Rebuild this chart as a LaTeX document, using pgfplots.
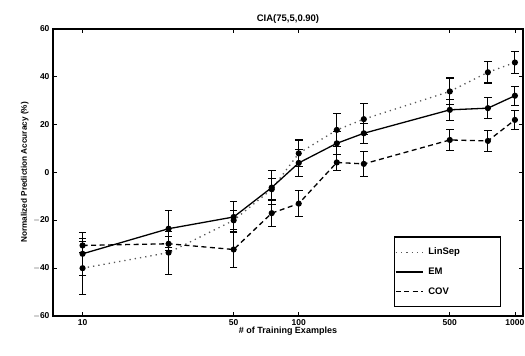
\documentclass[border=0pt]{standalone}
\usepackage{fontspec}
\setmainfont{Liberation Sans}
\usepackage{pgfplots}
\pgfplotsset{compat=1.18}
\begin{document}
\begin{tikzpicture}
\begin{axis}[name=ax, scale only axis, width=470pt, height=287pt,
  xmode=log, xmin=7.3, xmax=1090, ymin=-60, ymax=60,
  xtick={10,50,100,500,1000}, xticklabels={10,50,100,500,1000}, xminorticks=false,
  ytick={-60,-40,-20,0,20,40,60}, yticklabels={$-$60,$-$40,$-$20,0,20,40,60},
  tick pos=both, tick align=inside, major tick length=4pt,
  every tick/.style={black, line width=0.8pt},
  axis line style={line width=1.1pt},
  ticklabel style={font=\fontsize{8.5}{9}\selectfont\bfseries},
  title={CIA(75,5,0.90)}, title style={font=\fontsize{9.5}{10}\selectfont\bfseries, yshift=-4pt},
  xlabel={\# of Training Examples}, ylabel={Normalized Prediction Accuracy (\%)},
  xlabel style={font=\fontsize{9}{10}\selectfont\bfseries, yshift=5pt},
  ylabel style={font=\fontsize{8.2}{9}\selectfont\bfseries, yshift=-2pt},
  legend cell align=left,
  legend style={at={(0.953,0.031)}, anchor=south east, draw=black, line width=1.1pt,
    font=\fontsize{9.5}{10}\selectfont\bfseries, inner xsep=1pt, inner ysep=9pt, row sep=7.5pt,
    nodes={text width=66pt, inner xsep=5pt}},
  legend image code/.code={\draw[#1] (0pt,0pt) -- (27pt,0pt);},
]
\addlegendimage{black!65, line width=1.3pt, dash pattern=on 1.3pt off 4pt}
\addlegendentry{LinSep}
\addlegendimage{black, line width=1.3pt}
\addlegendentry{EM}
\addlegendimage{black, line width=1.3pt, dash pattern=on 5pt off 3.5pt}
\addlegendentry{COV}

% LinSep
\addplot[forget plot, black!65, line width=1.3pt, dash pattern=on 1.3pt off 4pt,
  mark=*, mark size=2.4pt, mark options={solid, fill=black, draw=black},
  error bars/.cd, y dir=both, y explicit,
  error bar style={solid, black, line width=1.1pt},
  error mark options={rotate=90, mark size=3.8pt, line width=1.1pt, solid, black}]
  coordinates {
  (10,-40) +- (0,11)
  (25,-33.5) +- (0,9)
  (50,-20) +- (0,4)
  (75,-7) +- (0,4.5)
  (100,8) +- (0,5.6)
  (150,17.8) +- (0,7)
  (200,22.3) +- (0,6.4)
  (500,33.9) +- (0,5.6)
  (750,41.9) +- (0,4.5)
  (1000,46) +- (0,4.5)
  };
% EM
\addplot[forget plot, black, line width=1.3pt,
  mark=*, mark size=2.4pt, mark options={solid, fill=black},
  error bars/.cd, y dir=both, y explicit,
  error bar style={solid, black, line width=1.1pt},
  error mark options={rotate=90, mark size=3.8pt, line width=1.1pt, solid, black}]
  coordinates {
  (10,-34) +- (0,9)
  (25,-23.5) +- (0,7.7)
  (50,-18.6) +- (0,6.6)
  (75,-6.3) +- (0,7)
  (100,4) +- (0,5.6)
  (150,12.2) +- (0,4.8)
  (200,16.4) +- (0,4.2)
  (500,26.2) +- (0,4.5)
  (750,26.9) +- (0,4.5)
  (1000,32.1) +- (0,4)
  };
% COV
\addplot[forget plot, black, line width=1.3pt, dash pattern=on 5pt off 3.5pt,
  mark=*, mark size=2.4pt, mark options={solid, fill=black},
  error bars/.cd, y dir=both, y explicit,
  error bar style={solid, black, line width=1.1pt},
  error mark options={rotate=90, mark size=3.8pt, line width=1.1pt, solid, black}]
  coordinates {
  (10,-30.5) +- (0,3)
  (25,-29.8) +- (0,3)
  (50,-32.2) +- (0,7.5)
  (75,-17) +- (0,5.6)
  (100,-13) +- (0,5.4)
  (150,4.2) +- (0,3.5)
  (200,3.6) +- (0,5.2)
  (500,13.6) +- (0,4.4)
  (750,13.2) +- (0,4.5)
  (1000,22) +- (0,4)
  };
\end{axis}
\pgfresetboundingbox
\path[use as bounding box] ([xshift=-53pt,yshift=-40pt]ax.south west) rectangle ([xshift=2pt,yshift=29pt]ax.north east);
\end{tikzpicture}
\end{document}
